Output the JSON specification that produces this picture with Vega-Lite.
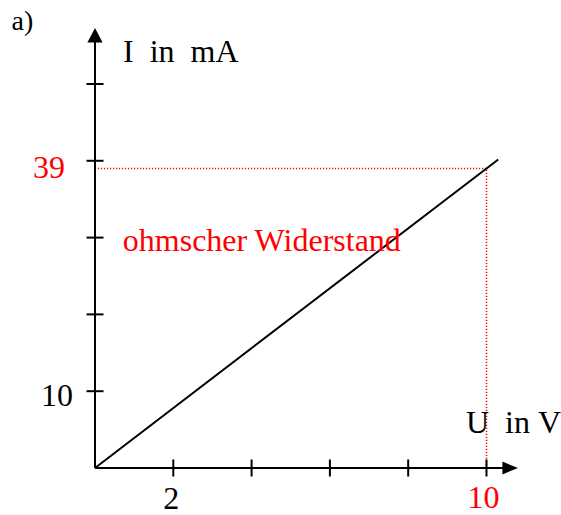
{
  "$schema": "https://vega.github.io/schema/vega-lite/v6.json",
  "width": 423,
  "height": 440,
  "autosize": {"type": "none"},
  "padding": {"left": 95, "top": 28, "right": 43, "bottom": 47},
  "background": "white",
  "config": {
    "view": {"stroke": null},
    "text": {"font": "Liberation Serif", "fontSize": 32, "color": "black"}
  },
  "resolve": {"scale": {"shape": "independent"}},
  "datasets": {
    "kennlinie": [
      {"U": 0, "I": 0},
      {"U": 10, "I": 39},
      {"U": 10.3, "I": 40.17}
    ],
    "achsen": [
      {"U": 0, "I": 0, "U2": 10.45, "I2": 0},
      {"U": 0, "I": 0, "U2": 0, "I2": 56}
    ],
    "pfeile": [
      {"U": 10.805, "I": 0, "dir": "rechts"},
      {"U": 0, "I": 57.29, "dir": "oben"}
    ],
    "striche": [
      {"U": 2, "I": 0, "achse": "U"},
      {"U": 4, "I": 0, "achse": "U"},
      {"U": 6, "I": 0, "achse": "U"},
      {"U": 8, "I": 0, "achse": "U"},
      {"U": 10, "I": 0, "achse": "U"},
      {"U": 0, "I": 10, "achse": "I"},
      {"U": 0, "I": 20, "achse": "I"},
      {"U": 0, "I": 30, "achse": "I"},
      {"U": 0, "I": 40, "achse": "I"},
      {"U": 0, "I": 50, "achse": "I"}
    ],
    "ablesung": [
      {"U": 0, "I": 39, "U2": 10, "I2": 39},
      {"U": 10, "I": 0, "U2": 10, "I2": 39}
    ]
  },
  "encoding": {
    "x": {"field": "U", "type": "quantitative", "scale": {"domain": [0, 10.805], "nice": false, "zero": false}, "axis": null},
    "y": {"field": "I", "type": "quantitative", "scale": {"domain": [0, 57.29], "nice": false, "zero": false}, "axis": null}
  },
  "layer": [
    {
      "data": {"name": "ablesung"},
      "mark": {"type": "rule", "color": "#ff0000", "strokeWidth": 1.5, "strokeDash": [1.2, 1.8]},
      "encoding": {"x2": {"field": "U2"}, "y2": {"field": "I2"}}
    },
    {
      "data": {"name": "achsen"},
      "mark": {"type": "rule", "color": "black", "strokeWidth": 2},
      "encoding": {"x2": {"field": "U2"}, "y2": {"field": "I2"}}
    },
    {
      "data": {"name": "pfeile"},
      "mark": {"type": "point", "filled": true, "color": "black", "opacity": 1, "size": 64, "strokeWidth": 0},
      "encoding": {
        "shape": {
          "field": "dir",
          "type": "nominal",
          "scale": {"domain": ["oben", "rechts"], "range": ["M0,0L1.9,3.6L-1.9,3.6Z", "M0,0L-3.9,-1.6L-3.9,1.6Z"]},
          "legend": null
        }
      }
    },
    {
      "data": {"name": "striche"},
      "mark": {"type": "point", "filled": false, "stroke": "black", "opacity": 1, "size": 289, "strokeWidth": 2},
      "encoding": {
        "shape": {
          "field": "achse",
          "type": "nominal",
          "scale": {"domain": ["U", "I"], "range": ["M0,-1L0,1", "M-1,0L1,0"]},
          "legend": null
        }
      }
    },
    {
      "data": {"name": "kennlinie"},
      "mark": {"type": "line", "color": "black", "strokeWidth": 2}
    },
    {
      "data": {"values": [{"U": 2, "I": 0, "t": "2"}]},
      "mark": {"type": "text", "align": "center", "baseline": "alphabetic", "dx": -2, "dy": 41},
      "encoding": {"text": {"field": "t"}}
    },
    {
      "data": {"values": [{"U": 10, "I": 0, "t": "10"}]},
      "mark": {"type": "text", "align": "center", "baseline": "alphabetic", "dx": -3, "dy": 40, "color": "#ff0000"},
      "encoding": {"text": {"field": "t"}}
    },
    {
      "data": {"values": [{"U": 0, "I": 10, "t": "10"}]},
      "mark": {"type": "text", "align": "right", "baseline": "alphabetic", "dx": -22, "dy": 14.5},
      "encoding": {"text": {"field": "t"}}
    },
    {
      "data": {"values": [{"U": 0, "I": 39, "t": "39"}]},
      "mark": {"type": "text", "align": "right", "baseline": "alphabetic", "dx": -30, "dy": 10, "color": "#ff0000"},
      "encoding": {"text": {"field": "t"}}
    },
    {
      "data": {"values": [{"U": 0, "I": 57.29, "t": "I\u00a0\u00a0in\u00a0\u00a0mA"}]},
      "mark": {"type": "text", "align": "left", "baseline": "alphabetic", "dx": 28, "dy": 33.7},
      "encoding": {"text": {"field": "t"}}
    },
    {
      "data": {"values": [{"U": 10, "I": 0, "t": "U\u00a0\u00a0in\u00a0V"}]},
      "mark": {"type": "text", "align": "left", "baseline": "alphabetic", "dx": -20.5, "dy": -35},
      "encoding": {"text": {"field": "t"}}
    },
    {
      "data": {"values": [{"U": 0.71, "I": 28.3, "t": "ohmscher Widerstand"}]},
      "mark": {"type": "text", "align": "left", "baseline": "alphabetic", "color": "#ff0000"},
      "encoding": {"text": {"field": "t"}}
    },
    {
      "data": {"values": [{"U": 0, "I": 57.29, "t": "a)"}]},
      "mark": {"type": "text", "align": "left", "baseline": "alphabetic", "dx": -83.5, "dy": 2, "fontSize": 28},
      "encoding": {"text": {"field": "t"}}
    }
  ]
}
